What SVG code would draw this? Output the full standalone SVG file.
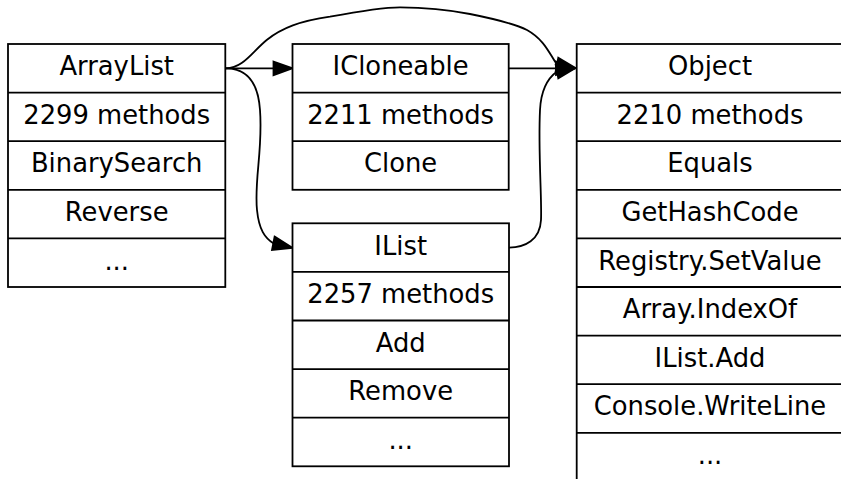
<svg xmlns="http://www.w3.org/2000/svg" width="841" height="479" viewBox="0 0 841 479">
<style>
.box{fill:#fff;stroke:#000;stroke-width:1.8}
.sep{stroke:#000;stroke-width:1.8}
.t{font-family:"DejaVu Sans",sans-serif;font-size:25.8px;text-anchor:middle;fill:#000}
.e{fill:none;stroke:#000;stroke-width:1.8}
.ah{fill:#000;stroke:#000;stroke-width:1.8;stroke-linejoin:miter}
</style>
<rect width="841" height="479" fill="#fff"/>
<g id="connectors">
<path class="e" d="M225.3,68.3 L273.5,68.3"/>
<polygon class="ah" points="273.5,61.5 292.5,68.3 273.5,75.1"/>
<path class="e" d="M226,68.3 C243,68.3 252,52 266.7,40 C282,28 300,21 330,16.7 C355,12 380,7.3 400,7.3 C425,7.3 450,10 470,14 C495,19 515,24 527,30 C545,40 550,55 557,64.5"/>
<polygon class="ah" points="558.3,57.8 575.5,68 555.7,71.2"/>
<path class="e" d="M226,68.3 C245,68.3 258,80 260,110 C263,150 254,180 257,210 C259,230 265,238 273.3,243.3"/>
<polygon class="ah" points="274.6,236.6 292.5,247.8 272,250"/>
<path class="e" d="M508.7,68.3 L556,68.3"/>
<polygon class="ah" points="556,61.5 575.5,68.3 556,75.1"/>
<path class="e" d="M509,247.6 C525,247.6 540,240 541,220 C542,200 538,150 540,110 C541,90 548,78 557,71.5"/>
<polygon class="ah" points="555.7,64.8 575.5,68 558.3,78.2"/>
</g>
<g id="ArrayList">
<rect class="box" x="8" y="44" width="217.3" height="243"/>
<line class="sep" x1="8" y1="92.6" x2="225.3" y2="92.6"/>
<line class="sep" x1="8" y1="141.2" x2="225.3" y2="141.2"/>
<line class="sep" x1="8" y1="189.8" x2="225.3" y2="189.8"/>
<line class="sep" x1="8" y1="238.4" x2="225.3" y2="238.4"/>
<text class="t" x="116.7" y="75.2">ArrayList</text>
<text class="t" x="116.7" y="123.8">2299 methods</text>
<text class="t" x="116.7" y="172.4">BinarySearch</text>
<text class="t" x="116.7" y="221">Reverse</text>
<text class="t" x="116.7" y="269.6">...</text>
</g>
<g id="ICloneable">
<rect class="box" x="292.5" y="44" width="216.2" height="145.8"/>
<line class="sep" x1="292.5" y1="92.6" x2="508.7" y2="92.6"/>
<line class="sep" x1="292.5" y1="141.2" x2="508.7" y2="141.2"/>
<text class="t" x="400.6" y="75.2">ICloneable</text>
<text class="t" x="400.6" y="123.8">2211 methods</text>
<text class="t" x="400.6" y="172.4">Clone</text>
</g>
<g id="IList">
<rect class="box" x="292.5" y="223.3" width="216.5" height="243"/>
<line class="sep" x1="292.5" y1="271.9" x2="509" y2="271.9"/>
<line class="sep" x1="292.5" y1="320.5" x2="509" y2="320.5"/>
<line class="sep" x1="292.5" y1="369.1" x2="509" y2="369.1"/>
<line class="sep" x1="292.5" y1="417.7" x2="509" y2="417.7"/>
<text class="t" x="400.7" y="254.5">IList</text>
<text class="t" x="400.7" y="303.1">2257 methods</text>
<text class="t" x="400.7" y="351.7">Add</text>
<text class="t" x="400.7" y="400.3">Remove</text>
<text class="t" x="400.7" y="448.9">...</text>
</g>
<g id="Object">
<rect class="box" x="576.7" y="44" width="270" height="437.4"/>
<line class="sep" x1="576.7" y1="92.6" x2="846.7" y2="92.6"/>
<line class="sep" x1="576.7" y1="141.2" x2="846.7" y2="141.2"/>
<line class="sep" x1="576.7" y1="189.8" x2="846.7" y2="189.8"/>
<line class="sep" x1="576.7" y1="238.4" x2="846.7" y2="238.4"/>
<line class="sep" x1="576.7" y1="287" x2="846.7" y2="287"/>
<line class="sep" x1="576.7" y1="335.6" x2="846.7" y2="335.6"/>
<line class="sep" x1="576.7" y1="384.2" x2="846.7" y2="384.2"/>
<line class="sep" x1="576.7" y1="432.8" x2="846.7" y2="432.8"/>
<text class="t" x="710" y="75.2">Object</text>
<text class="t" x="710" y="123.8">2210 methods</text>
<text class="t" x="710" y="172.4">Equals</text>
<text class="t" x="710" y="221">GetHashCode</text>
<text class="t" x="710" y="269.6">Registry.SetValue</text>
<text class="t" x="710" y="318.2">Array.IndexOf</text>
<text class="t" x="710" y="366.8">IList.Add</text>
<text class="t" x="710" y="415.4">Console.WriteLine</text>
<text class="t" x="710" y="464">...</text>
</g>
</svg>
